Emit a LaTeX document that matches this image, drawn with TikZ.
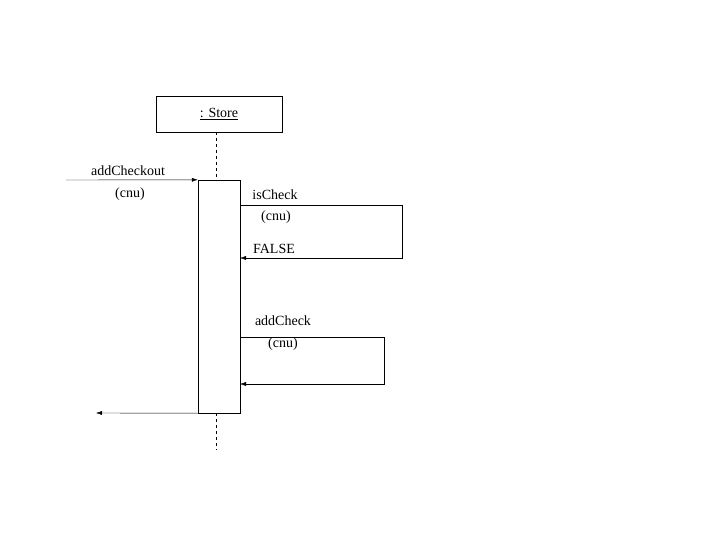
\documentclass[tikz,border=0pt]{standalone}
\usepackage{fontspec}
\setmainfont{Liberation Serif}
\usetikzlibrary{arrows.meta}
\begin{document}
\begin{tikzpicture}[x=1pt,y=-1pt,font=\fontsize{14}{16}\selectfont]

\tikzset{obj/.style = {draw,minimum width=126pt,minimum height=36pt}}
\tikzset{msg/.style = {-{Latex[length=6pt,width=4pt]}}}
\tikzset{lbl/.style = {inner sep=0pt}}
\useasboundingbox (0,0) rectangle (720,540);
%object and lifeline
\node[obj] (store) at (219,114) {\underline{: Store}};
\node[draw,minimum width=42pt,minimum height=233pt,inner sep=0pt] (act) at (219,296.5) {};
\coordinate (lifeEnd) at (216,450);
\draw[dashed] (216,132) -- (216,180);
\draw[dashed] (216,413) -- (lifeEnd);
%incoming call
\coordinate (caller) at (66,180);
\draw[msg] (caller) -- (act.north west);
\node[lbl] (m1) at (128,171) {addCheckout};
\node[lbl] (m1a) at (130,194) {(cnu)};
%self calls
\coordinate (s1) at (240,205);
\coordinate (s1r) at (240,258);
\draw[msg] (s1) -- (402,205) -- (402,258) -- (s1r);
\node[lbl] (m2) at (275,195) {isCheck};
\node[lbl] (m2a) at (276,217) {(cnu)};
\node[lbl] (m2r) at (274,249) {FALSE};
\coordinate (s2) at (240,337);
\coordinate (s2r) at (240,384);
\draw[msg] (s2) -- (384,337) -- (384,384) -- (s2r);
\node[lbl] (m3) at (283,321) {addCheck};
\node[lbl] (m3a) at (283,344) {(cnu)};
%return
\coordinate (ret) at (96,413);
\draw[msg] (act.south west) -- (ret);

\end{tikzpicture}
\end{document}
